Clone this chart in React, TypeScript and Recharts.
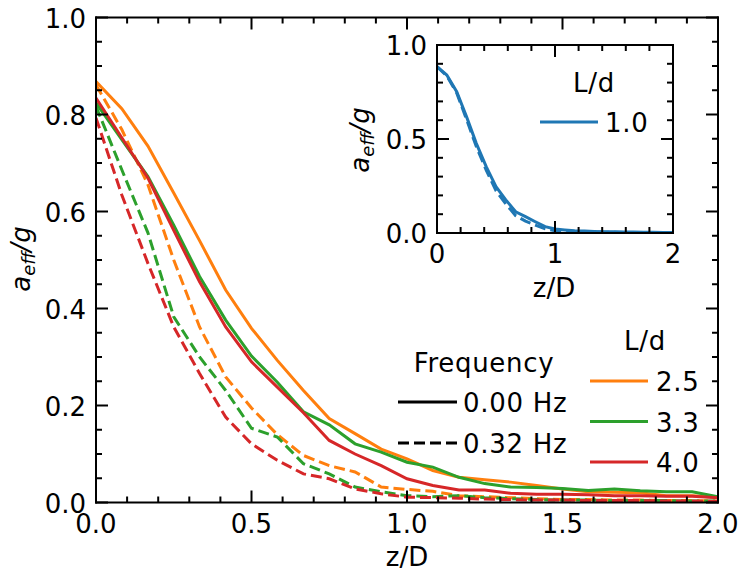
import React from 'react';
import { LineChart, Line, XAxis, YAxis } from 'recharts';

// z/D sample positions (shared by every curve)
const zOverD = [
  0, 0.083, 0.167, 0.25, 0.333, 0.417, 0.5, 0.583, 0.667, 0.75, 0.833, 0.917, 1.0,
  1.083, 1.167, 1.25, 1.333, 1.417, 1.5, 1.583, 1.667, 1.75, 1.833, 1.917, 2.0,
];

// main plot, 0.00 Hz (solid)
const solid25 = [
  0.868, 0.812, 0.735, 0.638, 0.54, 0.438, 0.359, 0.293, 0.231, 0.173, 0.142, 0.11, 0.09,
  0.066, 0.052, 0.047, 0.042, 0.035, 0.028, 0.022, 0.021, 0.02, 0.014, 0.014, 0.011,
];
const solid33 = [
  0.824, 0.748, 0.672, 0.572, 0.466, 0.376, 0.302, 0.248, 0.187, 0.16, 0.121, 0.104, 0.083,
  0.073, 0.052, 0.039, 0.032, 0.031, 0.029, 0.025, 0.028, 0.024, 0.022, 0.022, 0.012,
];
const solid40 = [
  0.834, 0.752, 0.669, 0.561, 0.455, 0.362, 0.29, 0.238, 0.185, 0.128, 0.1, 0.076, 0.049,
  0.035, 0.026, 0.026, 0.019, 0.017, 0.017, 0.016, 0.014, 0.014, 0.013, 0.013, 0.01,
];
// main plot, 0.32 Hz (dashed)
const dashed25 = [
  0.861, 0.769, 0.655, 0.5, 0.362, 0.259, 0.195, 0.14, 0.097, 0.076, 0.063, 0.032, 0.027,
  0.023, 0.014, 0.012, 0.01, 0.008, 0.006, 0.006, 0.005, 0.005, 0.004, 0.004, 0.003,
];
const dashed33 = [
  0.817, 0.686, 0.556, 0.383, 0.3, 0.231, 0.153, 0.135, 0.08, 0.059, 0.032, 0.022, 0.014,
  0.012, 0.014, 0.01, 0.008, 0.006, 0.005, 0.005, 0.004, 0.004, 0.004, 0.003, 0.003,
];
const dashed40 = [
  0.793, 0.634, 0.493, 0.362, 0.266, 0.176, 0.121, 0.087, 0.059, 0.049, 0.028, 0.018, 0.011,
  0.01, 0.009, 0.007, 0.006, 0.005, 0.005, 0.004, 0.004, 0.004, 0.003, 0.003, 0.002,
];
// inset, L/d = 1.0
const insetSolid = [
  0.885, 0.84, 0.752, 0.619, 0.477, 0.353, 0.246, 0.176, 0.113, 0.087, 0.06, 0.034, 0.021,
  0.016, 0.012, 0.01, 0.008, 0.007, 0.006, 0.005, 0.005, 0.004, 0.004, 0.003, 0.003,
];
const insetDashed = [
  0.885, 0.835, 0.745, 0.605, 0.46, 0.335, 0.225, 0.155, 0.092, 0.063, 0.042, 0.022, 0.012,
  0.008, 0.006, 0.005, 0.005, 0.004, 0.004, 0.003, 0.003, 0.003, 0.002, 0.002, 0.002,
];

// ticks
const mainXTicks = [0, 0.1, 0.2, 0.3, 0.4, 0.5, 0.6, 0.7, 0.8, 0.9, 1.0, 1.1, 1.2, 1.3, 1.4, 1.5, 1.6, 1.7, 1.8, 1.9, 2.0];
const mainXMajor = [0, 0.5, 1.0, 1.5, 2.0];
const mainYTicks = [0, 0.05, 0.1, 0.15, 0.2, 0.25, 0.3, 0.35, 0.4, 0.45, 0.5, 0.55, 0.6, 0.65, 0.7, 0.75, 0.8, 0.85, 0.9, 0.95, 1.0];
const mainYMajor = [0, 0.2, 0.4, 0.6, 0.8, 1.0];
const insetXTicks = [0, 0.2, 0.4, 0.6, 0.8, 1.0, 1.2, 1.4, 1.6, 1.8, 2.0];
const insetXMajor = [0, 1, 2];
const insetYTicks = [0, 0.1, 0.2, 0.3, 0.4, 0.5, 0.6, 0.7, 0.8, 0.9, 1.0];
const insetYMajor = [0, 0.5, 1.0];

const ORANGE = '#ff7f0e';
const GREEN = '#2ca02c';
const RED = '#d62728';
const BLUE = '#1f77b4';
const FONT = '"DejaVu Sans", sans-serif';
const FS = 26;
const DASH = '11 5';

const mainRows = zOverD.map((z, i) => ({
  z,
  s25: solid25[i],
  s33: solid33[i],
  s40: solid40[i],
  d25: dashed25[i],
  d33: dashed33[i],
  d40: dashed40[i],
}));

const insetRows = zOverD.map((z, i) => ({ z, s10: insetSolid[i], d10: insetDashed[i] }));

const isMajor = (v: number, majors: number[]) => majors.some((m) => Math.abs(m - v) < 1e-6);

type Side = 'left' | 'right' | 'top' | 'bottom';

// inward ticks, labels only on major ticks of left/bottom axes
const makeTick = (side: Side, majors: number[], fmt?: (v: number) => string) => (props: any) => {
  const { x, y, payload } = props;
  const v = payload.value as number;
  const major = isMajor(v, majors);
  const len = major ? 12 : 6;
  let line = null;
  if (side === 'left') line = <line x1={x} x2={x + len} y1={y} y2={y} />;
  if (side === 'right') line = <line x1={x} x2={x - len} y1={y} y2={y} />;
  if (side === 'top') line = <line x1={x} x2={x} y1={y} y2={y + len} />;
  if (side === 'bottom') line = <line x1={x} x2={x} y1={y} y2={y - len} />;
  return (
    <g stroke="#000" strokeWidth={2}>
      {line}
      {fmt && major && side === 'left' && (
        <text x={x - 10} y={y + 1} textAnchor="end" dominantBaseline="central" fontFamily={FONT} fontSize={FS} fill="#000" stroke="none">
          {fmt(v)}
        </text>
      )}
      {fmt && major && side === 'bottom' && (
        <text x={x} y={y + 30} textAnchor="middle" fontFamily={FONT} fontSize={FS} fill="#000" stroke="none">
          {fmt(v)}
        </text>
      )}
    </g>
  );
};

const axisLine = { stroke: '#000', strokeWidth: 2, strokeLinecap: 'square' as const };

const MainChart = () => (
  <LineChart width={747} height={581} data={mainRows} margin={{ top: 7.5, right: 19, bottom: 38.5, left: 36 }}>
    <XAxis xAxisId="b" dataKey="z" type="number" domain={[0, 2]} allowDataOverflow ticks={mainXTicks} interval={0}
      height={40} tickSize={0} tickMargin={0} tickLine={false} axisLine={axisLine}
      tick={makeTick('bottom', mainXMajor, (v) => v.toFixed(1))} />
    <XAxis xAxisId="t" orientation="top" dataKey="z" type="number" domain={[0, 2]} allowDataOverflow ticks={mainXTicks} interval={0}
      height={10} tickSize={0} tickMargin={0} tickLine={false} axisLine={axisLine}
      tick={makeTick('top', mainXMajor)} />
    <YAxis yAxisId="l" type="number" domain={[0, 1]} allowDataOverflow ticks={mainYTicks} interval={0}
      width={60} tickSize={0} tickMargin={0} tickLine={false} axisLine={axisLine}
      tick={makeTick('left', mainYMajor, (v) => v.toFixed(1))} />
    <YAxis yAxisId="r" orientation="right" type="number" domain={[0, 1]} allowDataOverflow ticks={mainYTicks} interval={0}
      width={10} tickSize={0} tickMargin={0} tickLine={false} axisLine={axisLine}
      tick={makeTick('right', mainYMajor)} />
    <Line xAxisId="b" yAxisId="l" dataKey="s25" stroke={ORANGE} strokeWidth={3} dot={false} isAnimationActive={false} />
    <Line xAxisId="b" yAxisId="l" dataKey="d25" stroke={ORANGE} strokeWidth={3} strokeDasharray={DASH} dot={false} isAnimationActive={false} />
    <Line xAxisId="b" yAxisId="l" dataKey="s33" stroke={GREEN} strokeWidth={3} dot={false} isAnimationActive={false} />
    <Line xAxisId="b" yAxisId="l" dataKey="d33" stroke={GREEN} strokeWidth={3} strokeDasharray={DASH} dot={false} isAnimationActive={false} />
    <Line xAxisId="b" yAxisId="l" dataKey="s40" stroke={RED} strokeWidth={3} dot={false} isAnimationActive={false} />
    <Line xAxisId="b" yAxisId="l" dataKey="d40" stroke={RED} strokeWidth={3} strokeDasharray={DASH} dot={false} isAnimationActive={false} />
  </LineChart>
);

const InsetChart = () => (
  <LineChart width={350} height={280} data={insetRows} margin={{ top: 10, right: 12, bottom: 37, left: 37 }}>
    <XAxis xAxisId="b" dataKey="z" type="number" domain={[0, 2]} allowDataOverflow ticks={insetXTicks} interval={0}
      height={40} tickSize={0} tickMargin={0} tickLine={false} axisLine={axisLine}
      tick={makeTick('bottom', insetXMajor, (v) => String(Math.round(v)))} />
    <XAxis xAxisId="t" orientation="top" dataKey="z" type="number" domain={[0, 2]} allowDataOverflow ticks={insetXTicks} interval={0}
      height={5} tickSize={0} tickMargin={0} tickLine={false} axisLine={axisLine}
      tick={makeTick('top', insetXMajor)} />
    <YAxis yAxisId="l" type="number" domain={[0, 1]} allowDataOverflow ticks={insetYTicks} interval={0}
      width={60} tickSize={0} tickMargin={0} tickLine={false} axisLine={axisLine}
      tick={makeTick('left', insetYMajor, (v) => v.toFixed(1))} />
    <YAxis yAxisId="r" orientation="right" type="number" domain={[0, 1]} allowDataOverflow ticks={insetYTicks} interval={0}
      width={5} tickSize={0} tickMargin={0} tickLine={false} axisLine={axisLine}
      tick={makeTick('right', insetYMajor)} />
    <Line xAxisId="b" yAxisId="l" dataKey="s10" stroke={BLUE} strokeWidth={3} dot={false} isAnimationActive={false} />
    <Line xAxisId="b" yAxisId="l" dataKey="d10" stroke={BLUE} strokeWidth={3} strokeDasharray={DASH} dot={false} isAnimationActive={false} />
  </LineChart>
);

const txt = { fontFamily: FONT, fontSize: FS, fill: '#000' };
const legTxt = { ...txt, letterSpacing: 0.7 };

const AeffLabel = ({ x, y }: { x: number; y: number }) => (
  <text x={x} y={y} transform={`rotate(-90 ${x} ${y})`} textAnchor="middle" fontStyle="italic" {...txt}>
    <tspan>a</tspan>
    <tspan fontSize={18} dy={5}>eff</tspan>
    <tspan dy={-5}>/g</tspan>
  </text>
);

const Overlay = () => (
  <svg width={747} height={581} style={{ position: 'absolute', left: 0, top: 0, pointerEvents: 'none' }}>
    <AeffLabel x={30} y={259} />
    <text x={407} y={566} textAnchor="middle" {...txt}>z/D</text>
    <AeffLabel x={369} y={140} />
    <text x={554} y={297} textAnchor="middle" {...txt}>z/D</text>

    {/* frequency legend */}
    <text x={484} y={372} textAnchor="middle" {...legTxt}>Frequency</text>
    <line x1={398} x2={457} y1={402} y2={402} stroke="#000" strokeWidth={3} />
    <text x={463} y={403} dominantBaseline="central" {...legTxt}>0.00 Hz</text>
    <line x1={398} x2={457} y1={443} y2={443} stroke="#000" strokeWidth={3} strokeDasharray={DASH} />
    <text x={463} y={444} dominantBaseline="central" {...legTxt}>0.32 Hz</text>

    {/* L/d legend */}
    <text x={645} y={350} textAnchor="middle" {...legTxt}>L/d</text>
    <line x1={590} x2={648} y1={381} y2={381} stroke={ORANGE} strokeWidth={3} />
    <text x={656} y={382} dominantBaseline="central" {...legTxt}>2.5</text>
    <line x1={590} x2={648} y1={421.5} y2={421.5} stroke={GREEN} strokeWidth={3} />
    <text x={656} y={422.5} dominantBaseline="central" {...legTxt}>3.3</text>
    <line x1={590} x2={648} y1={462} y2={462} stroke={RED} strokeWidth={3} />
    <text x={656} y={463} dominantBaseline="central" {...legTxt}>4.0</text>

    {/* inset legend */}
    <text x={594} y={92} textAnchor="middle" {...legTxt}>L/d</text>
    <line x1={540} x2={598} y1={122} y2={122} stroke={BLUE} strokeWidth={3} />
    <text x={605} y={123} dominantBaseline="central" {...legTxt}>1.0</text>
  </svg>
);

export default function App() {
  return (
    <div style={{ position: 'absolute', left: 0, top: 0, width: 747, height: 581, background: '#fff' }}>
      <MainChart />
      <div style={{ position: 'absolute', left: 340, top: 30 }}>
        <InsetChart />
      </div>
      <Overlay />
    </div>
  );
}
